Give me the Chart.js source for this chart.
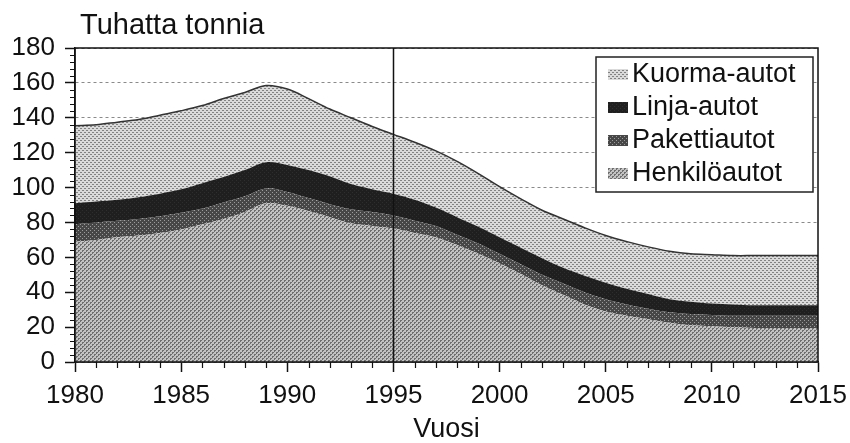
<!DOCTYPE html>
<html><head><meta charset="utf-8">
<script src="https://cdn.jsdelivr.net/npm/chart.js@4.4.0/dist/chart.umd.min.js"></script>
<style>html,body{margin:0;padding:0;background:#fff;}canvas{display:block;}</style>
</head><body>
<canvas id="c" width="850" height="443"></canvas>
<script>
const years = [1980,1981,1982,1983,1984,1985,1986,1987,1988,1989,1990,1991,1992,1993,1994,1995,1996,1997,1998,1999,2000,2001,2002,2003,2004,2005,2006,2007,2008,2009,2010,2011,2012,2013,2014,2015];
const henkiloautot = [69,70,71.5,72.5,74,76,79,82,86,91,89.5,86.5,83,79.5,78,76.5,74,71.5,67,62,56.5,50.5,44,38.5,33,29,26.5,24.5,22.5,21,20.5,20,19.5,19.5,19.5,19.5];
const pakettiautot = [10,10,9.5,9.5,9.5,9.5,9,9.5,9,8.5,8,7.5,7.5,8,8,7.5,7,6.5,6,6,5.5,5.5,6,6.5,7,7,6.5,6,6,6.5,6.5,6.5,7,7,7,7];
const linjaautot = [12,12,12,12.5,13,13.5,14.5,14.5,15,15,15.5,16,16,14.5,13,12.5,12,10.5,10,9.5,9.5,9.5,9.5,9,9.5,9.5,9,8.5,7.5,7,6.5,6.5,6,6,6,6];
const kuormaautot = [44.5,44,44.5,44.5,45,45,44.5,45,44.5,44,43.5,41,38.5,38,36,34,33,32.5,32,30.5,29,28,27.5,28,27.5,27,27,27,27.5,27.5,28,28,28.5,28.5,28.5,28.5];
const seriesNames = ['Henkilöautot','Pakettiautot','Linja-autot','Kuorma-autot'];
const yTickValues = [0,20,40,60,80,100,120,140,160,180];
const xLabelYears = [1980,1985,1990,1995,2000,2005,2010,2015];
const markerYear = 1995;
const titleText = 'Tuhatta tonnia';
const xTitleText = 'Vuosi';

const canvas = document.getElementById('c');
const mainCtx = canvas.getContext('2d');
function makePattern(base, dot, pts) {
  const t = document.createElement('canvas'); t.width = 4; t.height = 4;
  const g = t.getContext('2d');
  g.fillStyle = base; g.fillRect(0,0,4,4);
  g.fillStyle = dot; pts.forEach(([px,py]) => g.fillRect(px,py,1,1));
  return mainCtx.createPattern(t, 'repeat');
}
const fills = [
  makePattern('#c2c2c2', '#6e6e6e', [[0,0],[1,0],[0,1],[2,2],[3,2],[2,3]]),
  makePattern('#474747', '#9c9c9c', [[0,0],[2,2]]),
  makePattern('#1f1f1f', '#2e2e2e', [[0,0],[2,2]]),
  makePattern('#dadada', '#828282', [[0,0],[1,0],[2,2],[3,2]])
];
const values = [henkiloautot, pakettiautot, linjaautot, kuormaautot];
const FONT = "'Liberation Sans', Arial, sans-serif";
const TXT = '#111';

const decor = {
  id: 'decor',
  afterDatasetsDraw(chart) {
    const {ctx, chartArea: a, scales: {x, y}} = chart;
    ctx.save();
    ctx.strokeStyle = '#111';
    const xv = Math.round(x.getPixelForValue(years.indexOf(markerYear))) + 0.5;
    ctx.lineWidth = 1.5;
    ctx.beginPath(); ctx.moveTo(xv, a.top); ctx.lineTo(xv, a.bottom); ctx.stroke();
    ctx.lineWidth = 1.5;
    ctx.strokeRect(a.left, a.top, a.right - a.left, a.bottom - a.top);
    ctx.lineWidth = 1.2;
    ctx.beginPath();
    for (let v = 0; v <= 180; v += 4) {
      if (v % 20 === 0) continue;
      const py = Math.round(y.getPixelForValue(v)) + 0.5;
      ctx.moveTo(a.left - 5, py); ctx.lineTo(a.left, py);
    }
    years.forEach((yr, i) => {
      if (yr % 5 === 0) return;
      const px = Math.round(x.getPixelForValue(i)) + 0.5;
      ctx.moveTo(px, a.bottom); ctx.lineTo(px, a.bottom + 6);
    });
    ctx.stroke();
    const bw = 217, bh = 135;
    const bx = a.right - 5 - bw, by = a.top + 9;
    ctx.fillStyle = '#fff';
    ctx.fillRect(bx, by, bw, bh);
    ctx.lineWidth = 1.5; ctx.strokeStyle = '#222';
    ctx.strokeRect(bx, by, bw, bh);
    ctx.font = '27px ' + FONT;
    ctx.textBaseline = 'middle';
    ctx.textAlign = 'left';
    const ds = chart.data.datasets;
    for (let k = 0; k < ds.length; k++) {
      const d = ds[ds.length - 1 - k];
      const cy = by + 17 + k * 33;
      ctx.fillStyle = d.backgroundColor;
      ctx.fillRect(bx + 12, cy - 5, 20, 11);
      ctx.fillStyle = TXT;
      ctx.fillText(d.label, bx + 36, cy + 1);
    }
    ctx.font = '29px ' + FONT;
    ctx.textBaseline = 'alphabetic';
    ctx.fillStyle = TXT;
    ctx.fillText(titleText, a.left + 5, 34);
    ctx.restore();
  }
};

new Chart(canvas, {
  type: 'line',
  data: {
    labels: years.map(String),
    datasets: values.map((v, i) => ({
      label: seriesNames[i],
      data: v,
      backgroundColor: fills[i],
      borderColor: i === 3 ? '#333' : 'rgba(0,0,0,0)',
      borderWidth: i === 3 ? 1.5 : 1,
      fill: i === 0 ? 'origin' : '-1',
      pointRadius: 0,
      tension: 0.35
    }))
  },
  options: {
    responsive: false,
    animation: false,
    devicePixelRatio: 1,
    layout: { padding: { top: 48, right: 32, left: 0, bottom: 0 } },
    plugins: { legend: { display: false }, tooltip: { enabled: false } },
    scales: {
      x: {
        type: 'category',
        offset: false,
        afterFit: s => { s.height = 81; s.paddingLeft = 0; s.paddingRight = 0; },
        grid: { drawOnChartArea: false, tickLength: 10, tickColor: '#111', tickWidth: 1.5, color: 'rgba(0,0,0,0)' },
        border: { color: '#111', width: 1.5 },
        ticks: {
          autoSkip: false, maxRotation: 0, padding: 8, color: TXT,
          font: { family: FONT, size: 26 },
          callback: (val, idx) => xLabelYears.includes(years[idx]) ? String(years[idx]) : null
        },
        title: { display: true, text: xTitleText, color: TXT, font: { family: FONT, size: 27 }, padding: { top: 0, bottom: -3 } }
      },
      y: {
        stacked: true,
        min: 0, max: 180,
        afterFit: s => { s.width = 75; s.paddingTop = 0; s.paddingBottom = 0; },
        afterBuildTicks: s => { s.ticks = yTickValues.map(v => ({ value: v })); },
        grid: { color: '#8a8a8a', lineWidth: 1, tickLength: 10, tickColor: '#111', tickWidth: 1.5 },
        border: { color: '#111', width: 1.5, dash: [3, 3] },
        ticks: { padding: 10, color: TXT, font: { family: FONT, size: 26 } }
      }
    }
  },
  plugins: [decor]
});
</script>
</body></html>
